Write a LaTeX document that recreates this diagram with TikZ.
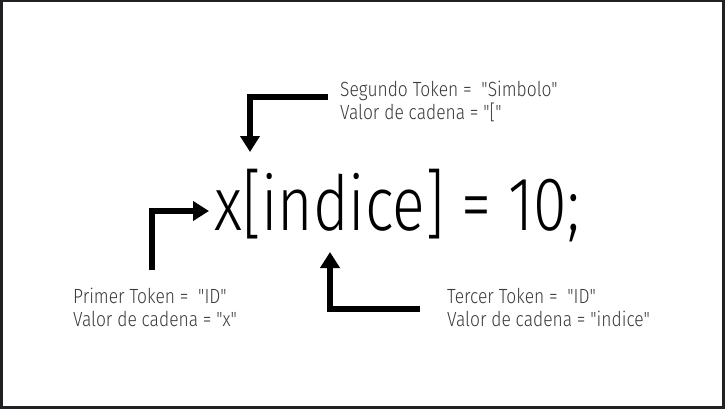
\documentclass[tikz,border=0pt]{standalone}
\usepackage{fontspec}
\setmainfont{Fira Sans}[UprightFont=* Light, FakeStretch=0.8, Ligatures=TeXOff]
\newfontfamily\lblfont{Fira Sans}[UprightFont=* Light, FakeStretch=0.85, Ligatures=TeXOff]
\usetikzlibrary{arrows.meta}
\definecolor{frame}{HTML}{202124}
\definecolor{txt}{HTML}{3A3A3A}
\begin{document}
\begin{tikzpicture}[x=1pt,y=-1pt,
  lbl/.style={anchor=north west,inner sep=0pt,align=left,text=txt,font=\lblfont\fontsize{20.5}{23}\selectfont},
  arr/.style={line width=5.5pt,-{Triangle[length=16pt,width=19pt]}},
]
\useasboundingbox (0,0) rectangle (725,409);
\fill[white] (0,0) rectangle (725,409);
\draw[frame,line width=2.5pt] (1.25,1.25) rectangle (723.5,407.5);
\node[anchor=west,inner sep=0pt,font=\fontsize{76}{76}\selectfont] (expr) at (214,206) {x[indice] = 10;};
\node[lbl] (seg) at (340,81) {Segundo Token = \ "Simbolo"\\Valor de cadena = "["};
\node[lbl] (pri) at (73,288) {Primer Token = \ "ID"\\Valor de cadena = "x"};
\node[lbl] (ter) at (447,288) {Tercer Token = \ "ID"\\Valor de cadena = "indice"};
\coordinate (s0) at (328,97);
\coordinate (s1) at (250,97);
\coordinate (s2) at (250,152);
\coordinate (p0) at (152,270);
\coordinate (p1) at (152,211);
\coordinate (p2) at (209,211);
\coordinate (t0) at (420,309);
\coordinate (t1) at (330,309);
\coordinate (t2) at (330,252);
\draw[arr] (s0) -- (s1) -- (s2);
\draw[arr] (p0) -- (p1) -- (p2);
\draw[arr] (t0) -- (t1) -- (t2);
\end{tikzpicture}
\end{document}
